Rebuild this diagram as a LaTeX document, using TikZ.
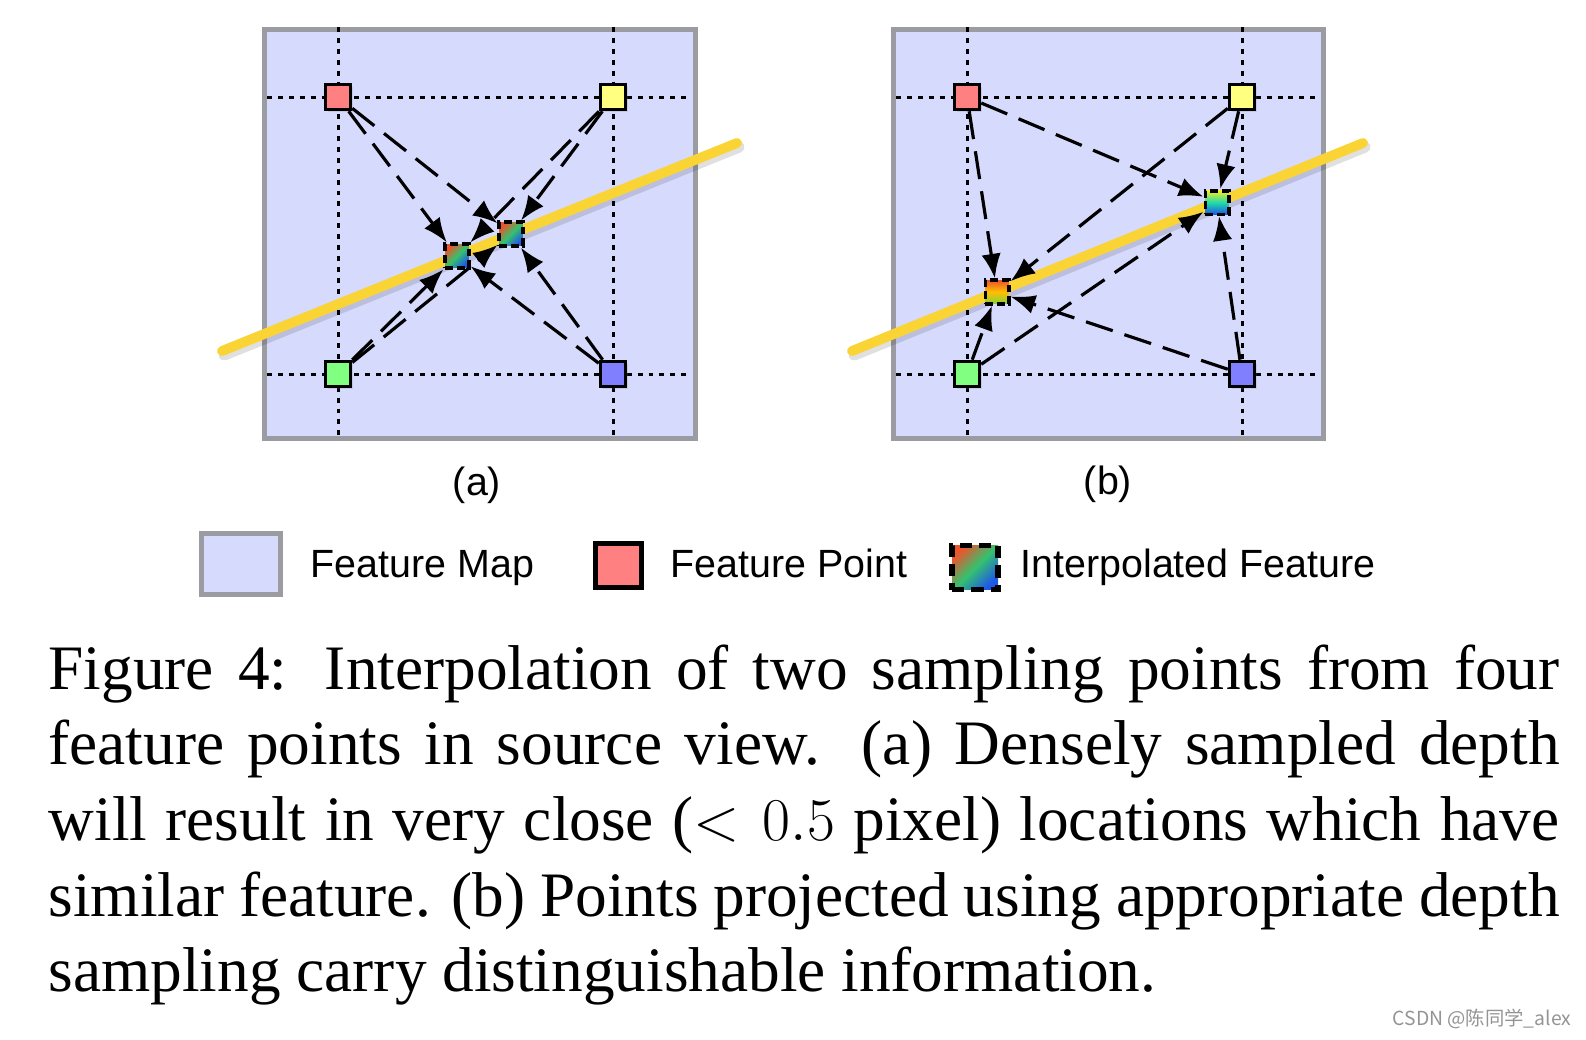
\documentclass[tikz,border=0pt]{standalone}
\usepackage{fontspec}
\setmainfont{Liberation Serif}
\setsansfont{Liberation Sans}
\newfontfamily\cjk{Noto Sans CJK SC}
\usepackage{tikz}
\usetikzlibrary{arrows.meta,shadows}

\definecolor{mapfill}{RGB}{214,218,252}
\definecolor{mapdraw}{RGB}{155,155,162}
\definecolor{ptred}{RGB}{255,128,128}
\definecolor{ptyellow}{RGB}{255,255,128}
\definecolor{ptgreen}{RGB}{128,255,128}
\definecolor{ptblue}{RGB}{128,128,255}
\definecolor{depthyellow}{RGB}{250,212,52}
\definecolor{gradred}{RGB}{236,84,44}
\definecolor{gradgreen}{RGB}{52,194,110}
\definecolor{gradblue}{RGB}{30,88,232}
\definecolor{gradyellow}{RGB}{244,238,40}
\definecolor{gradlime}{RGB}{130,210,60}

\tikzstyle{featmap} = [rectangle, draw=mapdraw, fill=mapfill, line width=1.4pt, inner sep=0pt]
\tikzstyle{featpt} = [rectangle, draw=black, line width=1pt, minimum size=0.25cm, inner sep=0pt, drop shadow={opacity=0.2, shadow xshift=0.6pt, shadow yshift=-0.8pt}]
\tikzstyle{interp} = [rectangle, draw=black, line width=1pt, dash pattern=on 2.2pt off 1.1pt, minimum size=0.235cm, inner sep=0pt]
\tikzstyle{dotgrid} = [line width=0.85pt, dash pattern=on 1.4pt off 1.7pt]
\tikzstyle{depthline} = [line width=2.8pt, draw=depthyellow, line cap=round]
\tikzstyle{depthshadow} = [line width=3.2pt, draw=black, opacity=0.12, line cap=round]
\tikzstyle{flow} = [-{Latex[length=7pt,width=5.5pt]}, line width=0.9pt, dash pattern=on 8pt off 3.5pt]
\tikzstyle{legtext} = [anchor=base west, inner sep=0pt, font=\sffamily\fontsize{11.2}{13}\selectfont]

\begin{document}
\begin{tikzpicture}[x=0.01cm, y=-0.01cm]
        \useasboundingbox (0,0) rectangle (1586,1039);

        % (a) densely sampled
        \node (fa) [featmap, minimum width=4.31cm, minimum height=4.09cm] at (480,234) {};
        \draw[dotgrid] (338,27) -- (338,441);
        \draw[dotgrid] (613,27) -- (613,441);
        \draw[dotgrid] (267,97) -- (692,97);
        \draw[dotgrid] (267,374) -- (692,374);
        \draw[depthshadow] (224,355) -- (739,147);
        \draw[depthline] (222,351) -- (737,143);

        \node (ra) [featpt, fill=ptred]    at (338,97)  {};
        \node (ya) [featpt, fill=ptyellow] at (613,97)  {};
        \node (ga) [featpt, fill=ptgreen]  at (338,374) {};
        \node (ba) [featpt, fill=ptblue]   at (613,374) {};
        \node (ia1) [interp, top color=gradred, bottom color=gradblue, middle color=gradgreen, shading angle=45] at (457,256) {};
        \node (ia2) [interp, top color=gradred, bottom color=gradblue, middle color=gradgreen, shading angle=45] at (511,234) {};

        \draw[flow] (ra) -- (ia1);
        \draw[flow] (ra) -- (ia2);
        \draw[flow] (ya) -- (ia1);
        \draw[flow] (ya) -- (ia2);
        \draw[flow] (ga) -- (ia1);
        \draw[flow] (ga) -- (ia2);
        \draw[flow] (ba) -- (ia1);
        \draw[flow] (ba) -- (ia2);

        % (b) appropriate sampling
        \node (fb) [featmap, minimum width=4.30cm, minimum height=4.09cm] at (1108.5,234) {};
        \draw[dotgrid] (967,27) -- (967,441);
        \draw[dotgrid] (1242,27) -- (1242,441);
        \draw[dotgrid] (896,97) -- (1321,97);
        \draw[dotgrid] (896,374) -- (1321,374);
        \draw[depthshadow] (854,355) -- (1365,147);
        \draw[depthline] (852,351) -- (1363,143);

        \node (rb) [featpt, fill=ptred]    at (967,97)  {};
        \node (yb) [featpt, fill=ptyellow] at (1242,97)  {};
        \node (gb) [featpt, fill=ptgreen]  at (967,374) {};
        \node (bb) [featpt, fill=ptblue]   at (1242,374) {};
        \node (ib1) [interp, top color=gradred, bottom color=gradlime, middle color=orange!50!yellow] at (997,292) {};
        \node (ib2) [interp, top color=gradyellow, bottom color=gradblue, middle color=gradgreen!60!cyan] at (1217,202.5) {};

        \draw[flow] (rb) -- (ib1);
        \draw[flow] (rb) -- (ib2);
        \draw[flow] (yb) -- (ib1);
        \draw[flow] (yb) -- (ib2);
        \draw[flow] (gb) -- (ib1);
        \draw[flow] (gb) -- (ib2);
        \draw[flow] (bb) -- (ib1);
        \draw[flow] (bb) -- (ib2);

        \node (laba) [font=\sffamily\fontsize{11.2}{13}\selectfont] at (477,485) {(a)};
        \node (labb) [font=\sffamily\fontsize{11.2}{13}\selectfont] at (1108,484) {(b)};

        % legend
        \node (lmap) [featmap, minimum width=0.79cm, minimum height=0.61cm] at (241,564) {};
        \node (tmap) [legtext] at (310,577) {Feature Map};
        \node (lpt) [featpt, fill=ptred, line width=1.6pt, minimum width=0.46cm, minimum height=0.44cm] at (618.5,565.5) {};
        \node (tpt) [legtext] at (670,577) {Feature Point};
        \node (lint) [interp, line width=1.6pt, dash pattern=on 3.5pt off 2pt, minimum width=0.46cm, minimum height=0.44cm, top color=gradred, bottom color=gradblue, middle color=gradgreen, shading angle=45] at (975,567.5) {};
        \node (tint) [legtext] at (1020,577) {Interpolated Feature};

        % caption
        \node (cap) [anchor=north west, inner sep=0pt, text width=15.1cm, align=justify, font=\fontsize{18}{21.5}\selectfont] at (48,644)
        {Figure 4: Interpolation of two sampling points from four\linebreak
        feature points in source view. (a) Densely sampled depth\linebreak
        will result in very close ($<0.5$ pixel) locations which have\linebreak
        similar feature. (b) Points projected using appropriate depth\linebreak
        sampling carry distinguishable information.};

        \node (wm) [anchor=east, inner sep=0pt, text=black!42, font=\cjk\fontsize{5.5}{6}\selectfont] at (1572,1019) {CSDN @陈同学\_alex};
    \end{tikzpicture}
\end{document}
